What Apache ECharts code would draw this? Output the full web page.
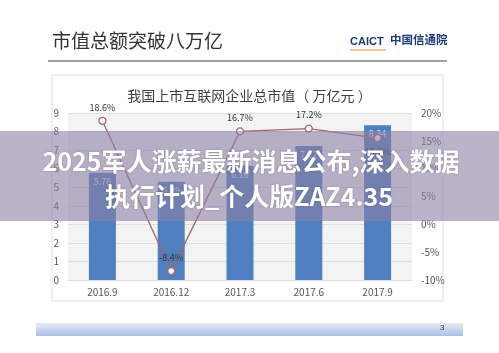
<!DOCTYPE html>
<html>
<head>
<meta charset="utf-8">
<script src="https://cdn.jsdelivr.net/npm/echarts@6/dist/echarts.min.js"></script>
<style>
  html, body { margin: 0; padding: 0; background: #fff; }
  #chart { width: 499px; height: 353px; }
</style>
</head>
<body>
<div id="chart"></div>
<script>
// 数据
const categories = ['2016.9', '2016.12', '2017.3', '2017.6', '2017.9']
const marketCap = [5.78, 5.29, 6.16, 7.22, 8.34]   // 万亿元
const growth = [18.6, -8.4, 16.7, 17.2, 15.5]      // 环比增长 %

const slideTitle = '市值总额突破八万亿'
const chartTitle = '我国上市互联网企业总市值（ 万亿元 ）'
const bannerLines = ['2025军人涨薪最新消息公布,深入数据', '执行计划_个人版ZAZ4.35']

const FONT = '"Noto Sans CJK SC", "Noto Sans", sans-serif'

const chart = echarts.init(document.getElementById('chart'))

// 最后一个点的标签在点下方
const growthData = growth.map((v, i) =>
  i === growth.length - 1 ? { value: v, label: { position: 'bottom' } } : v
)

chart.setOption({
  backgroundColor: '#fff',
  animation: false,
  textStyle: { fontFamily: FONT },
  title: {
    text: chartTitle,
    left: 'center',
    top: 84,
    textStyle: { fontSize: 14, fontWeight: 'normal', color: '#404040', fontFamily: FONT }
  },
  grid: { left: 68, right: 87, top: 113, bottom: 73, show: true, backgroundColor: '#f3f3f4', borderWidth: 0 },
  xAxis: {
    type: 'category',
    data: categories,
    axisLine: { show: false },
    axisTick: { show: false },
    axisLabel: { color: '#555', fontSize: 10, margin: 7 }
  },
  yAxis: [
    {
      type: 'value',
      min: 0,
      max: 9,
      interval: 1,
      axisLabel: { color: '#555', fontSize: 10, margin: 9 },
      splitLine: { lineStyle: { color: '#dedede' } }
    },
    {
      type: 'value',
      min: -10,
      max: 20,
      interval: 5,
      axisLabel: { color: '#555', fontSize: 10, margin: 9, formatter: '{value}%' },
      splitLine: { show: false }
    }
  ],
  series: [
    {
      name: '总市值',
      type: 'bar',
      data: marketCap,
      barWidth: 27,
      itemStyle: { color: '#4f7fbe' },
      label: { show: true, position: 'insideTop', distance: 4, fontSize: 9, color: '#d6e0f0' }
    },
    {
      name: '增长率',
      type: 'line',
      yAxisIndex: 1,
      data: growthData,
      symbol: 'circle',
      symbolSize: 7,
      lineStyle: { color: '#a8646b', width: 1.3 },
      itemStyle: { color: '#fff', borderColor: '#a8646b', borderWidth: 1.3 },
      label: { show: true, position: 'top', distance: 5, fontSize: 9, color: '#333', formatter: p => p.value + '%' },
      z: 5
    }
  ],
  graphic: [
    // 图表外框
    { type: 'rect', shape: { x: 52, y: 75, width: 391, height: 226 }, style: { fill: 'none', stroke: '#e0e0e0', lineWidth: 1 }, z: -1 },
    // 页面标题
    { type: 'text', left: 52, top: 31, style: { text: slideTitle, fontSize: 19, fill: '#333', fontFamily: FONT } },
    { type: 'text', left: 350, top: 36, style: { text: 'CAICT', fontSize: 11, fontWeight: 'bold', fill: '#1f3a7a', fontFamily: '"Liberation Sans", sans-serif' } },
    { type: 'line', shape: { x1: 350, y1: 50, x2: 386, y2: 50 }, style: { stroke: '#e08a2c', lineWidth: 1 } },
    { type: 'text', left: 390, top: 34, style: { text: '中国信通院', fontSize: 11.5, fontWeight: 'bold', fill: '#1f3a7a', fontFamily: FONT } },
    { type: 'line', shape: { x1: 48, y1: 61, x2: 447, y2: 61 }, style: { stroke: '#7a808e', lineWidth: 1.5 } },
    // 页脚
    {
      type: 'rect',
      shape: { x: 36, y: 323, width: 427, height: 13 },
      style: {
        fill: new echarts.graphic.LinearGradient(0, 0, 0, 1, [
          { offset: 0, color: '#e6edf7' },
          { offset: 1, color: '#a9bfe2' }
        ])
      }
    },
    { type: 'text', left: 440, top: 324, style: { text: '3', fontSize: 8, fill: '#333' } },
    // 横幅
    { type: 'rect', shape: { x: 0, y: 131, width: 499, height: 90 }, style: { fill: 'rgba(140,128,165,0.6)' }, z: 100 },
    {
      type: 'text', x: 251, y: 161, z: 101,
      style: {
        text: bannerLines[0], align: 'center', verticalAlign: 'middle',
        fontSize: 25, fontWeight: 'bold', fill: '#fff', fontFamily: FONT,
        textShadowColor: 'rgba(0,0,0,0.25)', textShadowBlur: 2
      }
    },
    {
      type: 'text', x: 249, y: 196, z: 101,
      style: {
        text: bannerLines[1], align: 'center', verticalAlign: 'middle',
        fontSize: 25, fontWeight: 'bold', fill: '#fff', fontFamily: FONT,
        textShadowColor: 'rgba(0,0,0,0.25)', textShadowBlur: 2
      }
    }
  ]
})
</script>
</body>
</html>
